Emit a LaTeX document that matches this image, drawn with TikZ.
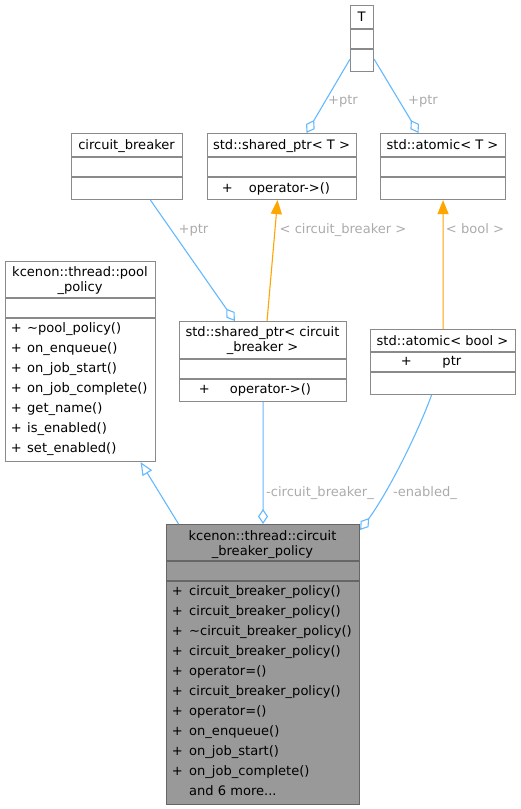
\documentclass[tikz,border=0pt]{standalone}
\usepackage{fontspec}
\setmainfont{DejaVu Sans}
\usetikzlibrary{arrows.meta}
\definecolor{edgeblue}{HTML}{63B8FF}
\definecolor{edgeorange}{HTML}{FFA500}
\definecolor{boxline}{HTML}{8A8A8A}
\definecolor{mainline}{HTML}{666666}
\definecolor{mainfill}{HTML}{999999}
\definecolor{labelgray}{HTML}{ABABAB}
\newcommand\plusgap[1]{\makebox[#1bp][l]{+}}
\begin{document}
\begin{tikzpicture}[x=1bp,y=-1bp,
  font=\fontsize{13.1}{15}\selectfont,
  classbox/.style={draw=boxline, line width=1.1bp, fill=white, anchor=north west, inner sep=0pt},
  mainbox/.style={draw=mainline, line width=1.1bp, fill=mainfill, anchor=north west, inner sep=0pt},
  divider/.style={draw=boxline, line width=1.1bp},
  maindivider/.style={draw=mainline, line width=1.1bp},
  title/.style={anchor=base, inner sep=0pt},
  memb/.style={anchor=base west, inner sep=0pt},
  elabel/.style={anchor=base, inner sep=0pt, text=labelgray},
  agg/.style={draw=edgeblue, line width=1.1bp, -{Diamond[open, length=15bp, width=10bp]}},
  inh/.style={draw=edgeblue, line width=1.1bp, -{Triangle[open, length=13bp, width=11bp]}},
  tmpl/.style={draw=edgeorange, line width=1.1bp, -{Triangle[length=14bp, width=11bp]}}
]
\useasboundingbox (0,0) rectangle (521,809);

% ---- T
\node[classbox, minimum width=23bp, minimum height=66bp] (T) at (350,5) {};
\draw[divider] (350,29) -- (373,29);
\draw[divider] (350,49) -- (373,49);
\node[title] (Tt) at (361.5,21.5) {T};

% ---- circuit_breaker
\node[classbox, minimum width=111bp, minimum height=66bp] (cb) at (71,133) {};
\draw[divider] (71,157) -- (182,157);
\draw[divider] (71,177) -- (182,177);
\node[title] (cbt) at (126.5,149.5) {circuit\_breaker};

% ---- std::shared_ptr< T >
\node[classbox, minimum width=149bp, minimum height=66bp] (spT) at (207,133) {};
\draw[divider] (207,157) -- (356,157);
\draw[divider] (207,177) -- (356,177);
\node[title] (spTt) at (281.5,149.5) {std::shared\_ptr< T >};
\node[memb] (spTm) at (221.7,192) {\plusgap{27}operator->()};

% ---- std::atomic< T >
\node[classbox, minimum width=125bp, minimum height=66bp] (atT) at (380,133) {};
\draw[divider] (380,157) -- (505,157);
\draw[divider] (380,177) -- (505,177);
\node[title] (atTt) at (442.5,149.5) {std::atomic< T >};

% ---- kcenon::thread::pool_policy
\node[classbox, minimum width=150bp, minimum height=200bp] (pool) at (5,261) {};
\draw[divider] (5,298) -- (155,298);
\draw[divider] (5,318) -- (155,318);
\node[title] (poolt1) at (80,276.5) {kcenon::thread::pool};
\node[title] (poolt2) at (80,291.5) {\_policy};
\node[memb] (pm1) at (10.7,332) {\plusgap{16.3}\textasciitilde pool\_policy()};
\node[memb] (pm2) at (10.7,352) {\plusgap{16.3}on\_enqueue()};
\node[memb] (pm3) at (10.7,372) {\plusgap{16.3}on\_job\_start()};
\node[memb] (pm4) at (10.7,392) {\plusgap{16.3}on\_job\_complete()};
\node[memb] (pm5) at (10.7,412) {\plusgap{16.3}get\_name()};
\node[memb] (pm6) at (10.7,432) {\plusgap{16.3}is\_enabled()};
\node[memb] (pm7) at (10.7,452) {\plusgap{16.3}set\_enabled()};

% ---- std::shared_ptr< circuit_breaker >
\node[classbox, minimum width=167bp, minimum height=80bp] (spcb) at (179,321) {};
\draw[divider] (179,359) -- (346,359);
\draw[divider] (179,379) -- (346,379);
\node[title] (spcbt1) at (262.5,336.5) {std::shared\_ptr< circuit};
\node[title] (spcbt2) at (262.5,351.5) {\_breaker >};
\node[memb] (spcbm) at (198.7,393) {\plusgap{31}operator->()};

% ---- std::atomic< bool >
\node[classbox, minimum width=145bp, minimum height=65bp] (atb) at (370,329) {};
\draw[divider] (370,352) -- (515,352);
\draw[divider] (370,372) -- (515,372);
\node[title] (atbt) at (442.5,345.5) {std::atomic< bool >};
\node[memb] (atbm) at (400.7,365.5) {\plusgap{41.6}ptr};

% ---- main class
\node[mainbox, minimum width=193bp, minimum height=280bp] (main) at (166,524) {};
\draw[maindivider] (166,561) -- (359,561);
\draw[maindivider] (166,581) -- (359,581);
\node[title] (maint1) at (262.5,540.5) {kcenon::thread::circuit};
\node[title] (maint2) at (262.5,555) {\_breaker\_policy};
\node[memb] (mm1) at (171.7,595) {\plusgap{17.3}circuit\_breaker\_policy()};
\node[memb] (mm2) at (171.7,615) {\plusgap{17.3}circuit\_breaker\_policy()};
\node[memb] (mm3) at (171.7,635) {\plusgap{17.3}\textasciitilde circuit\_breaker\_policy()};
\node[memb] (mm4) at (171.7,655) {\plusgap{17.3}circuit\_breaker\_policy()};
\node[memb] (mm5) at (171.7,675) {\plusgap{17.3}operator=()};
\node[memb] (mm6) at (171.7,695) {\plusgap{17.3}circuit\_breaker\_policy()};
\node[memb] (mm7) at (171.7,715) {\plusgap{17.3}operator=()};
\node[memb] (mm8) at (171.7,735) {\plusgap{17.3}on\_enqueue()};
\node[memb] (mm9) at (171.7,755) {\plusgap{17.3}on\_job\_start()};
\node[memb] (mm10) at (171.7,775) {\plusgap{17.3}on\_job\_complete()};
\node[memb] (mm11) at (189,795) {and 6 more...};

% ---- edges
\draw[agg] ([yshift=13bp]T.south west) -- ([xshift=24.5bp]spT.north);
\node[elabel] (l1) at (343,104.5) {+ptr};
\draw[agg] ([yshift=13bp]T.south east) -- ([xshift=-24.5bp]atT.north);
\node[elabel] (l2) at (423,104.5) {+ptr};

\draw[tmpl] ([xshift=4bp]spcb.north) -- ([xshift=-4.5bp]spT.south);
\node[elabel] (l3) at (343,233.5) {< circuit\_breaker >};
\draw[tmpl] (atb.north) -- (atT.south);
\node[elabel] (l4) at (475,233.5) {< bool >};

\draw[agg] (cb) -- (spcb);
\node[elabel] (l5) at (193.5,233.5) {+ptr};

\draw[inh] ([xshift=-84.5bp]main.north) -- ([xshift=60bp]pool.south);

\draw[agg] (spcb.south) -- (main.north);
\node[elabel] (l6) at (320,496.5) {-circuit\_breaker\_};

\draw[agg] ([xshift=-11.5bp]atb.south) .. controls (415,440) and (385,497) .. ([yshift=-6bp]main.north east);
\node[elabel] (l7) at (425,496.5) {-enabled\_};
\end{tikzpicture}
\end{document}
